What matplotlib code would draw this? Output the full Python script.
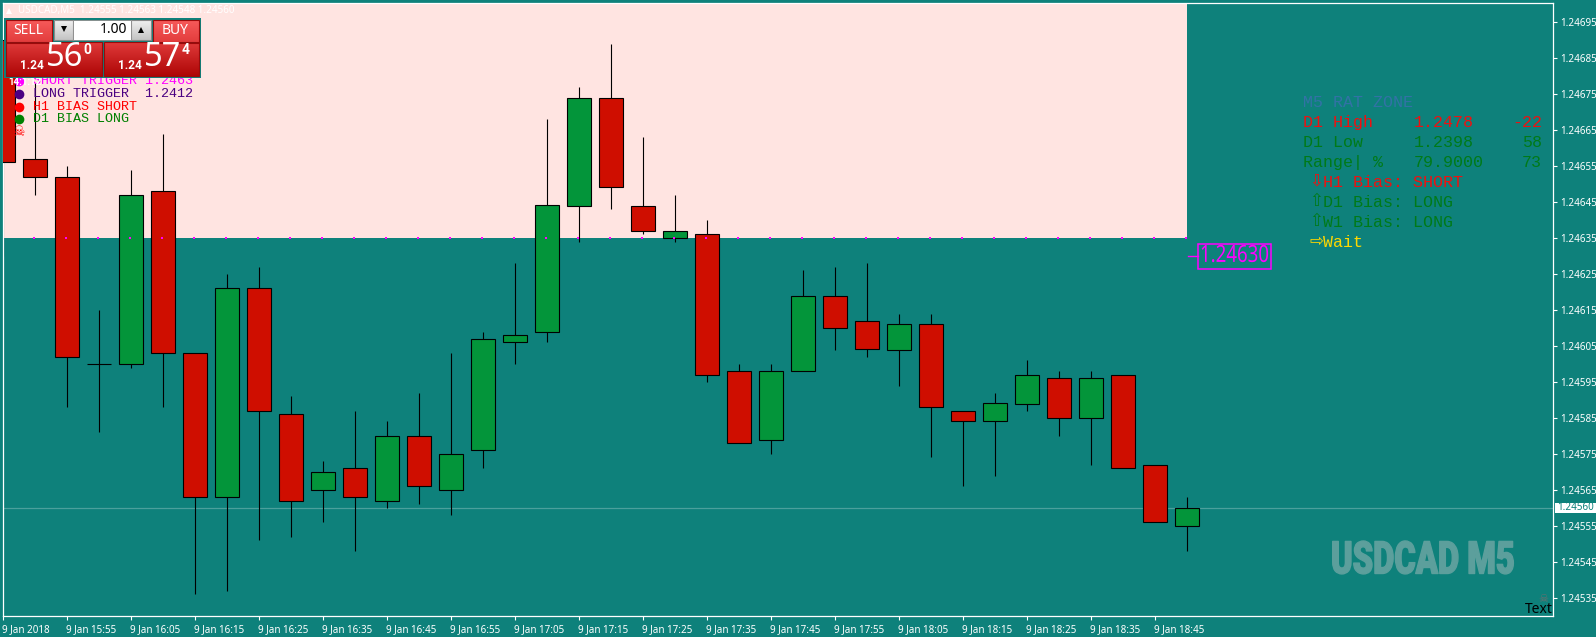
"""USDCAD M5 MT4 screenshot: candles, supply zone, one-click panel and info labels."""
import numpy as np
import matplotlib
matplotlib.use("Agg")
import matplotlib.pyplot as plt
from matplotlib.patches import Rectangle
from matplotlib.patheffects import AbstractPathEffect
from matplotlib.transforms import Affine2D, ScaledTranslation

W, H = 1596, 637

TEAL = "#0E817B"
PINK = "#FFE4E1"
RED = "#CF0E00"
GREEN = "#03953A"
MONO = "Liberation Mono"
SANS = "Noto Sans"

opens = [1.24690, 1.24657, 1.24652, 1.24600, 1.24600, 1.24648, 1.24603, 1.24563, 1.24621, 1.24586,
         1.24565, 1.24571, 1.24562, 1.24580, 1.24565, 1.24576, 1.24606, 1.24609, 1.24644, 1.24674,
         1.24644, 1.24635, 1.24636, 1.24598, 1.24579, 1.24598, 1.24619, 1.24612, 1.24604, 1.24611,
         1.24587, 1.24584, 1.24589, 1.24596, 1.24585, 1.24597, 1.24572, 1.24555]
highs = [1.24695, 1.24678, 1.24655, 1.24615, 1.24654, 1.24664, 1.24603, 1.24625, 1.24627, 1.24591,
         1.24573, 1.24587, 1.24584, 1.24592, 1.24603, 1.24609, 1.24628, 1.24668, 1.24677, 1.24689,
         1.24663, 1.24647, 1.24640, 1.24600, 1.24600, 1.24626, 1.24627, 1.24628, 1.24614, 1.24614,
         1.24587, 1.24592, 1.24601, 1.24598, 1.24598, 1.24597, 1.24572, 1.24563]
lows = [1.24630, 1.24647, 1.24588, 1.24581, 1.24599, 1.24588, 1.24536, 1.24537, 1.24551, 1.24552,
        1.24556, 1.24548, 1.24560, 1.24561, 1.24558, 1.24571, 1.24600, 1.24606, 1.24634, 1.24643,
        1.24636, 1.24634, 1.24595, 1.24578, 1.24575, 1.24598, 1.24604, 1.24602, 1.24594, 1.24574,
        1.24566, 1.24569, 1.24587, 1.24580, 1.24572, 1.24571, 1.24556, 1.24548]
closes = [1.24656, 1.24652, 1.24602, 1.24600, 1.24647, 1.24603, 1.24563, 1.24621, 1.24587, 1.24562,
          1.24570, 1.24563, 1.24580, 1.24566, 1.24575, 1.24607, 1.24608, 1.24644, 1.24674, 1.24649,
          1.24637, 1.24637, 1.24597, 1.24578, 1.24598, 1.24619, 1.24610, 1.24604, 1.24611, 1.24588,
          1.24584, 1.24589, 1.24597, 1.24585, 1.24596, 1.24571, 1.24556, 1.24560]

time_ticks = [0, 2, 4, 6, 8, 10, 12, 14, 16, 18, 20, 22, 24, 26, 28, 30, 32, 34, 36]
time_labels = ["9 Jan 2018", "9 Jan 15:55", "9 Jan 16:05", "9 Jan 16:15", "9 Jan 16:25",
               "9 Jan 16:35", "9 Jan 16:45", "9 Jan 16:55", "9 Jan 17:05", "9 Jan 17:15",
               "9 Jan 17:25", "9 Jan 17:35", "9 Jan 17:45", "9 Jan 17:55", "9 Jan 18:05",
               "9 Jan 18:15", "9 Jan 18:25", "9 Jan 18:35", "9 Jan 18:45"]
price_ticks = [1.24535, 1.24545, 1.24555, 1.24565, 1.24575, 1.24585, 1.24595, 1.24605, 1.24615,
               1.24625, 1.24635, 1.24645, 1.24655, 1.24665, 1.24675, 1.24685, 1.24695]

ZONE_LOW = 1.24635
TRIGGER = 1.24630
LAST = 1.24560


class Squeeze(AbstractPathEffect):
    """Narrow a text horizontally about a display x, no condensed fonts are installed."""

    def __init__(self, cx, sx, stroke=0.0):
        super().__init__()
        self.cx, self.sx, self.stroke = cx, sx, stroke

    def draw_path(self, renderer, gc, tpath, affine, rgbFace=None):
        aff = affine + Affine2D().translate(-self.cx, 0).scale(self.sx, 1).translate(self.cx, 0)
        if self.stroke:
            gc.set_linewidth(self.stroke)
            gc.set_foreground(rgbFace)
        renderer.draw_path(gc, tpath, aff, rgbFace)


fig = plt.figure(figsize=(W / 100, H / 100), dpi=100, facecolor=TEAL)
L, R, T, B = 2.5, 1553, 2.5, 616
ax = fig.add_axes([L / W, 1 - B / H, (R - L) / W, (B - T) / H], facecolor=TEAL)

# one bar = 32 px, one point = 3.6 px
ax.set_xlim((L - 3.3) / 32, (R - 3.3) / 32)
ax.set_ylim(LAST + (507.9 - B) / 360000, LAST + (507.9 - T) / 360000)

x = np.arange(len(opens))
o, h, l, c = map(np.array, (opens, highs, lows, closes))

top = ax.get_ylim()[1]
ax.add_patch(Rectangle((0, ZONE_LOW), x[-1], top - ZONE_LOW, facecolor=PINK, edgecolor="none", zorder=1))
ax.axhline(LAST, color="#4BA09C", lw=0.9, zorder=1.5)

ax.vlines(x, l, h, color="black", lw=0.8, zorder=2)
colors = [GREEN if cl > op else RED for op, cl in zip(o, c)]
ax.bar(x, c - o, bottom=o, width=0.75, color=colors, edgecolor="black", lw=0.8, zorder=3)

# little magenta dots along the zone edge
ax.plot(x[1:] - 0.03, [ZONE_LOW] * (len(x) - 1), ls="none", marker="s", ms=1.5, mew=0,
        color="#FF00FF", zorder=4)

for s in ax.spines.values():
    s.set_color("white")
    s.set_linewidth(0.9)

ax.yaxis.tick_right()
ax.set_yticks(price_ticks)
ax.set_yticklabels([f"{p:.5f}" for p in price_ticks])
ax.set_xticks(time_ticks)
ax.set_xticklabels(time_labels, ha="left")
ax.tick_params(axis="y", colors="white", length=3, width=0.8, pad=2, labelsize=7.1, labelfontfamily=SANS)
ax.tick_params(axis="x", colors="white", length=3, width=0.8, pad=2.5, labelsize=7.1, labelfontfamily=SANS)
for lab in ax.get_xticklabels():
    lab.set_transform(lab.get_transform() + ScaledTranslation(-1.5 / 100, 0, fig.dpi_scale_trans))

# overlay in screen pixels for the panels and labels
ov = fig.add_axes([0, 0, 1, 1], facecolor="none")
ov.set_xlim(0, W)
ov.set_ylim(H, 0)
ov.axis("off")


def gradient(x0, y0, x1, y1, c_top, c_bot, edge="#9A0A0A"):
    ca, cb = np.array(matplotlib.colors.to_rgb(c_top)), np.array(matplotlib.colors.to_rgb(c_bot))
    t = np.linspace(0, 1, 32)[:, None, None]
    ov.imshow(ca + (cb - ca) * t, extent=(x0, x1, y1, y0), aspect="auto", zorder=11)
    ov.add_patch(Rectangle((x0, y0), x1 - x0, y1 - y0, fill=False, edgecolor=edge, lw=0.8, zorder=12))


# header line
ov.text(18, 10.5, "USDCAD,M5  1.24555 1.24563 1.24548 1.24560", color="white", fontsize=7.1,
        family=SANS, va="center", zorder=5)
ov.plot([9], [11], marker="^", ms=4, mew=0, color="white", zorder=5)

# one click trading panel
ov.add_patch(Rectangle((4, 18), 197, 60, facecolor=TEAL, edgecolor="none", zorder=10))
gradient(6, 20, 52, 43, "#F65A5A", "#E23C3C")
gradient(153, 20, 199, 43, "#F65A5A", "#E23C3C")
gradient(6, 42, 102, 76, "#E03A3A", "#AE0606")
gradient(104, 42, 199, 76, "#E03A3A", "#AE0606")
ov.plot([10, 48], [41.5, 41.5], color="#8E1010", lw=0.7, zorder=13)
ov.plot([157, 195], [41.5, 41.5], color="#8E1010", lw=0.7, zorder=13)
gradient(54, 20, 73, 40, "#F0F0F0", "#C4C4C4", "#888888")
gradient(131, 20, 151, 40, "#F0F0F0", "#C4C4C4", "#888888")
ov.add_patch(Rectangle((73, 20), 58, 20, facecolor="white", edgecolor="#888888", lw=0.6, zorder=12))
ov.plot([63.5], [29], marker="v", ms=4, mew=0, color="black", zorder=13)
ov.plot([141], [29.5], marker="^", ms=4, mew=0, color="black", zorder=13)
ov.text(127.5, 29.5, "1.00", color="black", fontsize=10, family=SANS, ha="right", va="center", zorder=13)
ov.text(28, 30.5, "SELL", color="white", fontsize=10, family=SANS, ha="center", va="center", zorder=13)
ov.text(175, 30.5, "BUY", color="white", fontsize=10, family=SANS, ha="center", va="center", zorder=13)
for x0, big, small in [(32, "56", "0"), (130, "57", "4")]:
    ov.text(x0, 65.5, "1.24", color="white", fontsize=8.5, weight="bold", family="Roboto", ha="center", va="center", zorder=13)
    ov.text(x0 + 33, 57.5, big, color="white", fontsize=23.5, family=SANS, ha="center", va="center", zorder=13)
    ov.text(x0 + 55.5, 50.5, small, color="white", fontsize=10, weight="bold", family="Roboto", ha="center", va="center", zorder=13)

# legend top left
legend_rows = [("SHORT TRIGGER 1.2463", "#FF00FF", 81), ("LONG TRIGGER  1.2412", "#4B0082", 94),
               ("H1 BIAS SHORT", "#FF0000", 106.5), ("D1 BIAS LONG", "#008000", 119)]
for txt, col, y in legend_rows:
    ov.plot([19], [y], marker="o", ms=7, mew=0, color=col, zorder=6)
    ov.text(33, y, txt, color=col, fontsize=9.6, family=MONO, va="center", zorder=6)
ov.text(8, 82, "14:1:12", color="white", fontsize=7, weight="bold", family="Roboto", va="center", zorder=7)
ov.text(18.5, 131.5, "\u2620", color="#FF0000", fontsize=10, family="DejaVu Sans", ha="center", va="center", zorder=6)

# info table on the right
ov.text(1303, 102.7, "M5 RAT ZONE", color="#3272A6", fontsize=12, family=MONO, va="center")
table_rows = [("D1 High", "1.2478", "-22", "#F01010", 122.7), ("D1 Low", "1.2398", "58", "#007A18", 142.7),
              ("Range| %", "79.9000", "73", "#007A18", 162.7)]
for name, val, pts, col, y in table_rows:
    ov.text(1303, y, name, color=col, fontsize=12, family=MONO, va="center")
    ov.text(1414, y, val, color=col, fontsize=12, family=MONO, va="center")
    ov.text(1542, y, pts, color=col, fontsize=12, family=MONO, ha="right", va="center")
bias_rows = [("\u21e9", "H1 Bias: SHORT", "#F01010", 182.5), ("\u21e7", "D1 Bias: LONG", "#007A18", 202.5),
             ("\u21e7", "W1 Bias: LONG", "#007A18", 222.7), ("\u21e8", "Wait", "#FFD700", 242.7)]
for arrow, txt, col, y in bias_rows:
    ov.text(1316, y - 1.5, arrow, color=col, fontsize=12, family="DejaVu Sans", ha="center", va="center")
    ov.text(1323, y, txt, color=col, fontsize=12, family=MONO, va="center")

# trigger price box
trig_y = H - ax.transData.transform((0, TRIGGER))[1]
ov.plot([1188, 1198], [trig_y, trig_y], color="#FF00FF", lw=1)
ov.add_patch(Rectangle((1198, 244), 73, 25, fill=False, edgecolor="#FF00FF", lw=1.1))
ov.text(1234.5, trig_y, f"{TRIGGER:.5f}", color="#FF00FF", fontsize=17, family=SANS, ha="center", va="center",
        path_effects=[Squeeze(1234.5, 0.79)])

# last price tag
last_y = H - ax.transData.transform((0, LAST))[1]
ov.add_patch(Rectangle((1555, last_y - 5), 41, 10.5, facecolor="white", edgecolor="none"))
ov.text(1575.5, last_y, f"{LAST:.5f}", color=TEAL, fontsize=7.1, family=SANS, ha="center", va="center")

# watermark and corner bits, narrowed to the Impact look of the original
wm = ov.text(1423, 561.5, "USDCAD M5", color="#5C9F9C", fontsize=32.5, weight="black",
             family="Roboto", ha="center", va="center")
wm_w = wm.get_window_extent(fig.canvas.get_renderer()).width
wm.set_path_effects([Squeeze(1423, 184 / wm_w, stroke=1.0)])
ov.text(1543, 599, "\u2620", color="#6E6E6E", fontsize=8, family="DejaVu Sans", ha="center", va="center")
ov.text(1553, 609.5, "Text", color="black", fontsize=10, family=SANS, ha="right", va="center")

fig.savefig("out.png", dpi=100, facecolor=TEAL)
